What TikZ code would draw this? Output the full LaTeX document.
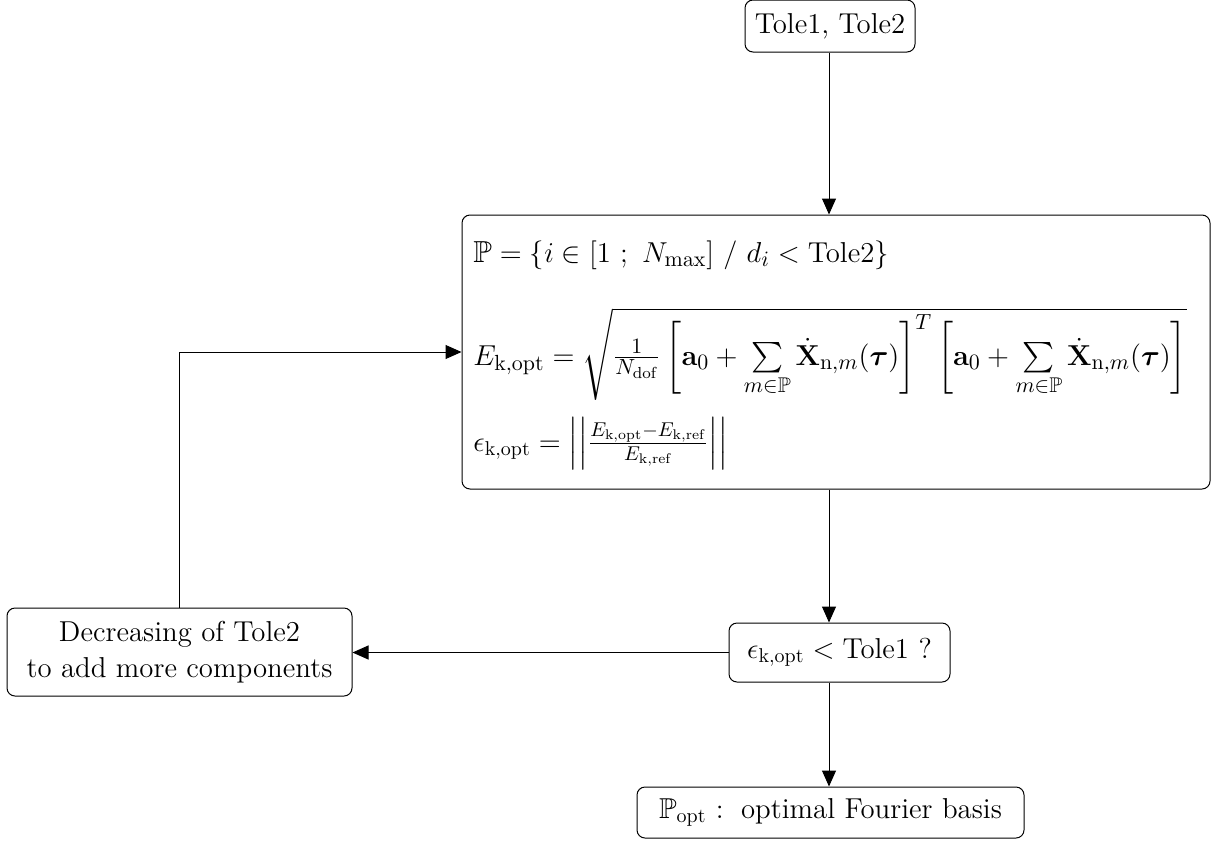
\documentclass[tikz,border=0pt]{standalone}
\usepackage{amsmath,amssymb,bm}
\usetikzlibrary{arrows.meta}
\newcommand{\bstrut}{\rule[-16pt]{0pt}{37pt}}
\begin{document}
\begin{tikzpicture}[x=0.5pt,y=-0.5pt,
  box/.style={draw, rounded corners=4pt, line width=0.5pt, font=\Large, inner sep=0pt, align=center},
  txt/.style={font=\Large, inner sep=0pt},
  bigtxt/.style={font=\fontsize{15.2}{18}\selectfont, inner sep=0pt},
  arr/.style={-{Triangle[length=8pt,width=7pt]}, line width=0.5pt}]
\useasboundingbox (0,0) rectangle (1214,841);
\node[box, minimum width=85pt, minimum height=26pt] (tole) at (830,26) {Tole1, Tole2};
\node[box, minimum width=374pt, minimum height=137pt] (big) at (836,352) {};
\node[bigtxt, anchor=base west] (pset) at (473,262) {$\mathbb{P} = \{ i \in [1\ ;\ N_{\mathrm{max}}]\ /\ d_i < \mathrm{Tole2}\}$};
\node[bigtxt, anchor=base west] (eopt) at (473,365) {$E_{\mathrm{k,opt}} = \sqrt{\frac{1}{N_{\mathrm{dof}}}\left[\bstrut\mathbf{a}_0 + \sum\limits_{m\in\mathbb{P}} \dot{\mathbf{X}}_{\mathrm{n},m}(\bm{\tau})\right]^T \left[\bstrut\mathbf{a}_0 + \sum\limits_{m\in\mathbb{P}} \dot{\mathbf{X}}_{\mathrm{n},m}(\bm{\tau})\right]}$};
\node[txt, anchor=base west] (eps) at (473,451) {$\epsilon_{\mathrm{k,opt}} = \left|\left|\frac{E_{\mathrm{k,opt}}-E_{\mathrm{k,ref}}}{E_{\mathrm{k,ref}}}\right|\right|$};
\node[box, minimum width=172.5pt, minimum height=44pt] (left) at (179.5,652) {Decreasing of Tole2\\to add more components};
\node[box, minimum width=110.5pt, minimum height=29.5pt] (dec) at (839.5,652.5) {$\epsilon_{\mathrm{k,opt}} < \mathrm{Tole1}$ ?};
\node[box, minimum width=193.5pt, minimum height=25.5pt] (res) at (830.5,812.5) {$\mathbb{P}_{\mathrm{opt}}$ :\, optimal Fourier basis};
\coordinate (ax) at (829,0);
\draw[arr] (tole.south -| ax) -- (big.north -| ax);
\draw[arr] (big.south -| ax) -- (dec.north -| ax);
\draw[arr] (dec.south -| ax) -- (res.north -| ax);
\draw[arr] (dec.west) -- (dec.west -| left.east);
\draw[arr] (left.north) |- (big.west);
\end{tikzpicture}
\end{document}
